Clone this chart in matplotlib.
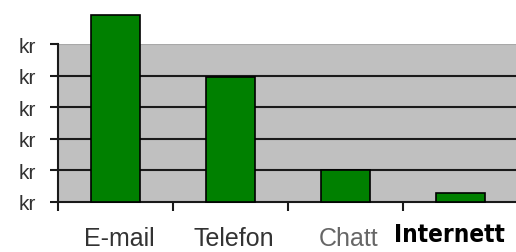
import matplotlib.pyplot as plt
import matplotlib.transforms as mtransforms

# Values (gridline units)
categories = ['E-mail', 'Telefon', 'Chatt', 'Internett']
values = [5.92, 3.97, 1.0, 0.27]
y_ticks = [0, 1, 2, 3, 4, 5]
y_tick_labels = ['kr'] * len(y_ticks)

fig = plt.figure(figsize=(5.16, 2.53), dpi=100)
ax = fig.add_axes([58 / 516, 50 / 253, 460 / 516, 158 / 253])
ax.set_facecolor('#c0c0c0')

x = list(range(len(categories)))
ax.bar(x, values, width=0.42, color='#008000', edgecolor='black',
       linewidth=1.2, zorder=3, clip_on=False)

ax.set_xlim(-0.5, len(categories) - 0.5)
ax.set_ylim(0, 5)

# horizontal gridlines
for v in y_ticks[1:-1]:
    ax.axhline(v, color='#1a1a1a', linewidth=1.5, zorder=1)
ax.axhline(5, color='#a8a8a8', linewidth=1.5, zorder=1)

ax.set_yticks(y_ticks)
ax.set_yticklabels(y_tick_labels, fontsize=15, color='#333333',
                   family='Liberation Sans')
ax.tick_params(axis='y', direction='out', length=6, width=1.5, pad=10,
               color='#1a1a1a')

ax.set_xticks([i - 0.5 for i in x])
ax.set_xticklabels([])
ax.tick_params(axis='x', direction='out', length=6.5, width=1.5,
               color='#1a1a1a')

for side in ['top', 'right']:
    ax.spines[side].set_visible(False)
for side in ['left', 'bottom']:
    ax.spines[side].set_color('#1a1a1a')
    ax.spines[side].set_linewidth(1.5)

# category labels below the axis
trans = mtransforms.blended_transform_factory(ax.transData, fig.transFigure)
label_colors = ['#333333', '#333333', '#666666']
for i, name in enumerate(categories[:-1]):
    ax.text(i + 0.03, 1 - 246 / 253, name, transform=trans, ha='center',
            va='baseline', fontsize=18, color=label_colors[i],
            family='Liberation Sans')
ax.text(x[-1] - 0.1, 1 - 242 / 253, categories[-1], transform=trans,
        ha='center', va='baseline', fontsize=17.5, color='black',
        family='DejaVu Sans', fontstretch='condensed', weight='heavy')

fig.savefig('out.png', dpi=100)
